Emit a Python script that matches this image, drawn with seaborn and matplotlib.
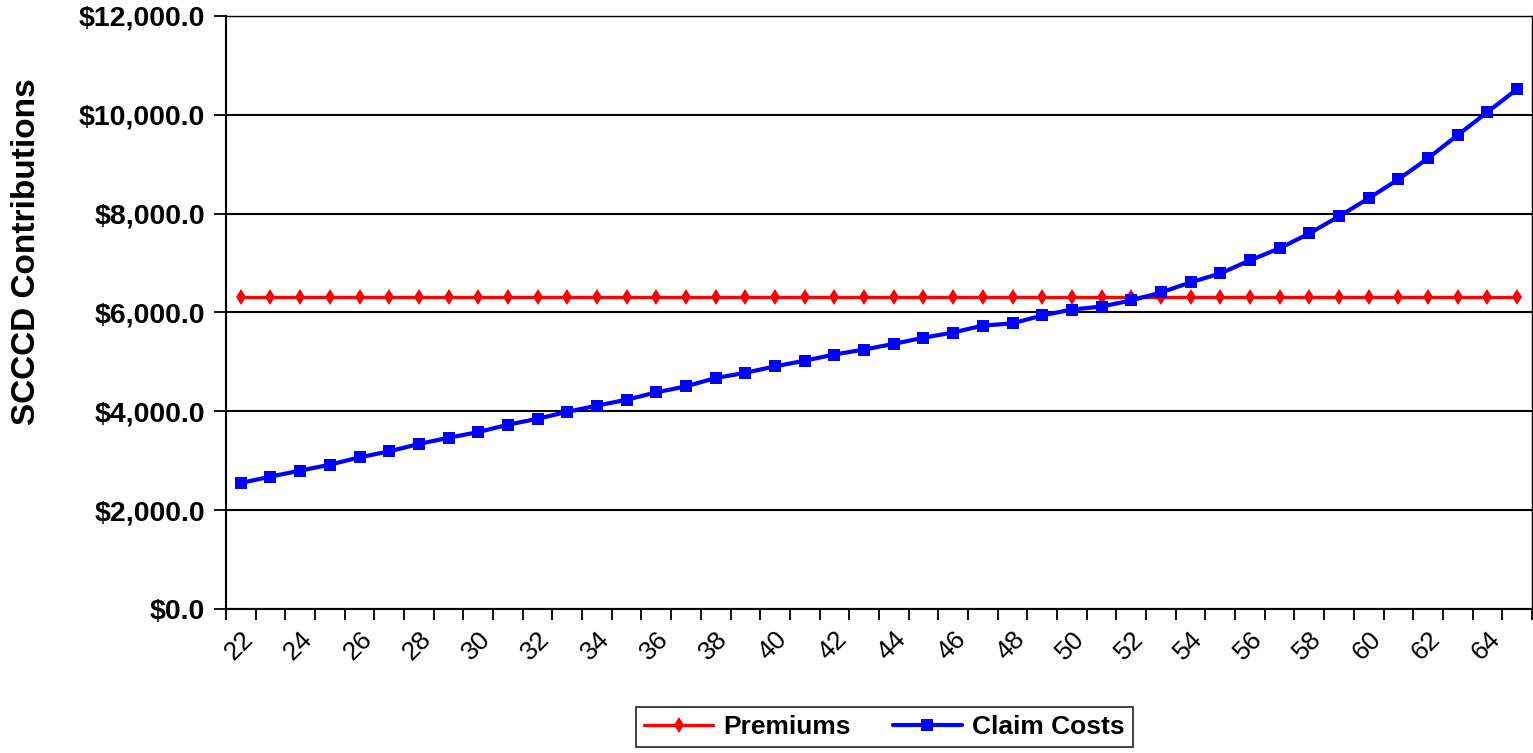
import pandas as pd
import matplotlib
matplotlib.use("Agg")
import matplotlib.pyplot as plt
import seaborn as sns
from matplotlib.ticker import FuncFormatter, MultipleLocator

# Datos
ages = [22, 23, 24, 25, 26, 27, 28, 29, 30, 31, 32, 33, 34, 35, 36,
        37, 38, 39, 40, 41, 42, 43, 44, 45, 46, 47, 48, 49, 50, 51,
        52, 53, 54, 55, 56, 57, 58, 59, 60, 61, 62, 63, 64, 65]
premiums = [6320, 6320, 6320, 6320, 6320, 6320, 6320, 6320, 6320, 6320, 6320,
            6320, 6320, 6320, 6320, 6320, 6320, 6320, 6320, 6320, 6320, 6320,
            6320, 6320, 6320, 6320, 6320, 6320, 6320, 6320, 6320, 6320, 6320,
            6320, 6320, 6320, 6320, 6320, 6320, 6320, 6320, 6320, 6320, 6320]
claim_costs = [2550, 2680, 2800, 2920, 3070, 3190, 3340, 3465, 3580, 3730, 3850,
               3990, 4115, 4235, 4385, 4505, 4675, 4780, 4910, 5025, 5150, 5250,
               5365, 5490, 5595, 5735, 5780, 5940, 6060, 6120, 6245, 6405, 6610,
               6790, 7055, 7300, 7600, 7945, 8310, 8695, 9120, 9590, 10055, 10520]
xtick_labels = [str(a) for a in ages[::2]]

sns.set_theme(style="white")
plt.rcParams["font.family"] = ["Liberation Sans", "DejaVu Sans"]
plt.rcParams["text.color"] = "black"
plt.rcParams["axes.labelcolor"] = "black"
plt.rcParams["xtick.color"] = "black"
plt.rcParams["ytick.color"] = "black"

df = pd.DataFrame({"Age": ages, "Premiums": premiums, "Claim Costs": claim_costs})

fig = plt.figure(figsize=(15.33, 7.53), dpi=100)
ax = fig.add_axes([0.1474, 0.1912, 0.8519, 0.7876])

sns.lineplot(data=df, x="Age", y="Premiums", ax=ax, color="#FF0000", lw=2.4,
             marker="d", markersize=8.5, markeredgewidth=0, label="Premiums", zorder=3)
sns.lineplot(data=df, x="Age", y="Claim Costs", ax=ax, color="#0000FF", lw=3.0,
             marker="s", markersize=9, markeredgewidth=0, label="Claim Costs", zorder=4)

ax.set_xlim(21.5, 65.5)
ax.set_ylim(0, 12000)
ax.yaxis.set_major_locator(MultipleLocator(2000))
ax.yaxis.set_major_formatter(FuncFormatter(lambda v, p: f"${v:,.1f}"))
ax.set_xticks(ages[::2])
ax.set_xticklabels(xtick_labels, rotation=45, ha="right", va="top",
                   rotation_mode="anchor", fontsize=19)
ax.set_xticks([a - 0.5 for a in ages] + [65.5], minor=True)
ax.tick_params(axis="x", which="major", length=0, pad=13)
ax.tick_params(axis="x", which="minor", length=8, width=1.3, color="black",
               direction="out", bottom=True)
ax.tick_params(axis="y", length=9, width=1.3, color="black", direction="out",
               left=True, labelsize=20.5, pad=6)
for lab in ax.get_yticklabels():
    lab.set_fontweight("bold")

ax.grid(axis="y", color="black", lw=1.5)
ax.set_axisbelow(True)
for side, sp in ax.spines.items():
    sp.set_color("black")
    sp.set_linewidth(1.5 if side in ("left", "bottom") else 1.0)

ax.set_xlabel("")
ax.set_ylabel("SCCCD Contributions", fontsize=24, fontweight="bold")
ax.yaxis.set_label_coords(-0.1412, 0.603)

handles, labels = ax.get_legend_handles_labels()
ax.get_legend().remove()
leg = fig.legend(handles, labels, loc="center", bbox_to_anchor=(0.577, 0.0345),
                 ncol=2, frameon=True, fancybox=False, edgecolor="black",
                 prop={"size": 19, "weight": "bold"}, handlelength=2.6,
                 columnspacing=1.6, borderpad=0.3, handletextpad=0.4)
leg.get_frame().set_linewidth(1.3)

fig.savefig("out.png", dpi=100)
